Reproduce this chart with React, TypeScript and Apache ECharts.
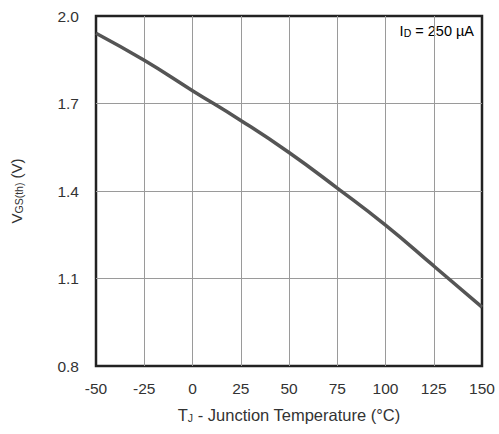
import React, { useEffect, useRef } from "react";
import * as echarts from "echarts";

const temperatures = [-50, -25, 0, 25, 50, 75, 100, 125, 150];
const vgsth = [1.941, 1.848, 1.744, 1.642, 1.532, 1.41, 1.283, 1.143, 1.002];
const xTicks = { min: -50, max: 150, interval: 25 };
const yTicks = { min: 0.8, max: 2.0, interval: 0.3 };

const FONT = "Liberation Sans, Arial, sans-serif";
const TXT = "#333";
const grid = () => ({
  show: true,
  showMinLine: false,
  showMaxLine: false,
  lineStyle: { color: "#9a9a9a", width: 1 },
});

export default function App() {
  const ref = useRef<HTMLDivElement>(null);
  useEffect(() => {
    document.body.style.margin = "0";
    if (!ref.current) return;
    const chart = echarts.init(ref.current, undefined, { renderer: "svg" });
    const richMain = { fontSize: 16.5, fontFamily: FONT, color: TXT, verticalAlign: "bottom", lineHeight: 22 };
    const richSub = { fontSize: 10.5, fontFamily: FONT, color: TXT, verticalAlign: "bottom", lineHeight: 12 };
    chart.setOption({
      animation: false,
      backgroundColor: "#fff",
      grid: {
        left: 96,
        right: 17,
        top: 16,
        bottom: 68,
        show: true,
        borderColor: "#222",
        borderWidth: 2.5,
        backgroundColor: "transparent",
      },
      xAxis: {
        type: "value",
        min: xTicks.min,
        max: xTicks.max,
        interval: xTicks.interval,
        axisLine: { show: false },
        axisTick: { show: false },
        axisLabel: { fontSize: 15.5, fontFamily: FONT, color: TXT, margin: 14 },
        splitLine: grid(),
        name: "{a|T}{s|J}{a| - Junction Temperature (°C)}",
        nameLocation: "middle",
        nameGap: 35,
        nameTextStyle: { rich: { a: richMain, s: richSub } },
      },
      yAxis: {
        type: "value",
        min: yTicks.min,
        max: yTicks.max,
        interval: yTicks.interval,
        axisLine: { show: false },
        axisTick: { show: false },
        axisLabel: {
          fontSize: 15.5,
          fontFamily: FONT,
          color: TXT,
          margin: 17,
          formatter: (v: number) => v.toFixed(1),
        },
        splitLine: grid(),
        name: "{a|V}{s|GS(th)}{a| (V)}",
        nameLocation: "middle",
        nameGap: 72,
        nameTextStyle: { rich: { a: { ...richMain, fontSize: 15 }, s: richSub } },
      },
      graphic: [
        {
          type: "text",
          right: 25,
          top: 23,
          style: {
            text: "{a|I}{s|D}{a| = 250 µA}",
            rich: {
              a: { ...richMain, fontSize: 14.5 },
              s: richSub,
            },
          },
        },
      ],
      series: [
        {
          type: "line",
          data: temperatures.map((t, i) => [t, vgsth[i]]),
          smooth: true,
          showSymbol: false,
          lineStyle: { color: "#555", width: 3.5 },
        },
      ],
    });
    return () => chart.dispose();
  }, []);
  return <div ref={ref} style={{ width: 499, height: 434 }} />;
}
